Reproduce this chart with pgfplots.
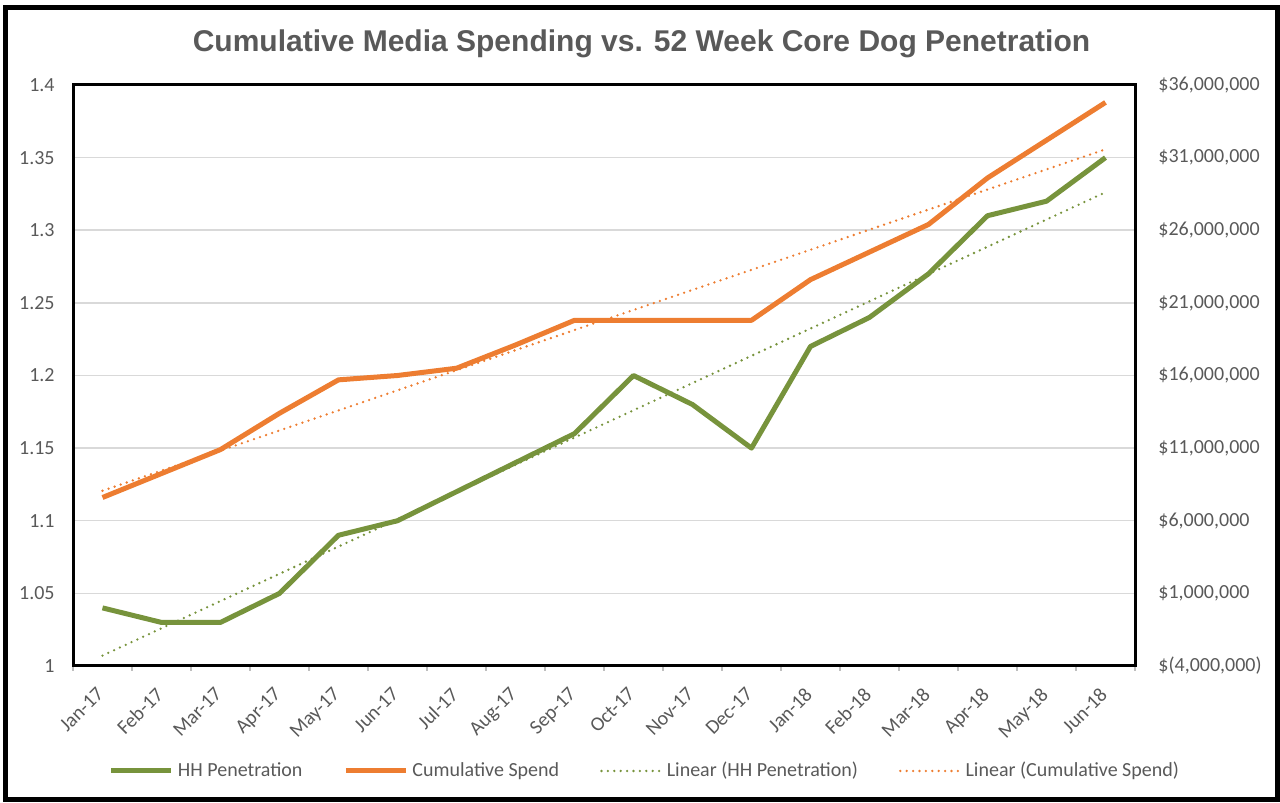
\documentclass[border=0pt]{standalone}
\usepackage{pgfplots}
\usepackage{pgfplotstable}
\pgfplotsset{compat=1.18}
\usepackage{fontspec}
\setmainfont{Carlito}
\newfontfamily\titlefont{Liberation Sans}
\definecolor{hhgreen}{HTML}{77933C}
\definecolor{spendorange}{HTML}{ED7D31}
\definecolor{txtgray}{HTML}{595959}
\definecolor{gridgray}{HTML}{D9D9D9}
\definecolor{tickgray}{HTML}{BFBFBF}

% x = month index (0 = Jan-17), g = HH penetration, o = cumulative spend (millions of $)
\pgfplotstableread{
x g o
0 1.04 7.6
1 1.03 9.25
2 1.03 10.9
3 1.05 13.4
4 1.09 15.7
5 1.10 16.0
6 1.12 16.5
7 1.14 18.1
8 1.16 19.8
9 1.20 19.8
10 1.18 19.8
11 1.15 19.8
12 1.22 22.6
13 1.24 24.5
14 1.27 26.4
15 1.31 29.6
16 1.32 32.2
17 1.35 34.8
}\datatable

\begin{document}
\begin{tikzpicture}
\path[use as bounding box] (0,0) rectangle (640pt,401.5pt);
\draw[line width=2.5pt] (2.75pt,1.5pt) rectangle (638.5pt,397.75pt);
\node[font=\titlefont\bfseries\fontsize{15}{18}\selectfont, text=txtgray, anchor=base] at (320.75pt,375.5pt) {Cumulative Media Spending vs. 52 Week Core Dog Penetration};

\begin{axis}[
  at={(36.5pt,68.5pt)}, anchor=south west,
  scale only axis, width=531pt, height=290.5pt,
  xmin=-0.5, xmax=17.5, ymin=1, ymax=1.4,
  xtick={0,...,17},
  xticklabels={Jan-17,Feb-17,Mar-17,Apr-17,May-17,Jun-17,Jul-17,Aug-17,Sep-17,Oct-17,Nov-17,Dec-17,Jan-18,Feb-18,Mar-18,Apr-18,May-18,Jun-18},
  minor xtick={-0.5,0.5,...,17.5},
  major tick length=0pt,
  minor tick length=2.5pt,
  tick align=outside,
  xtick pos=bottom, ytick pos=left,
  minor x tick style={tickgray, line width=0.75pt},
  ytick={1,1.05,1.1,1.15,1.2,1.25,1.3,1.35,1.4},
  yticklabels={1,1.05,1.1,1.15,1.2,1.25,1.3,1.35,1.4},
  ytick style={draw=none},
  ymajorgrids, grid style={gridgray, line width=0.75pt},
  axis line style={line width=1.5pt, black},
  tick label style={font=\fontsize{10}{12}\selectfont, text=txtgray},
  yticklabel style={anchor=east, inner sep=0pt, xshift=-9pt},
  xticklabel style={rotate=45, anchor=north east, inner sep=0pt, xshift=-9.4pt, yshift=-4.6pt},
]
\addplot[hhgreen, line width=2.5pt, line join=round] table[x=x,y=g]{\datatable};
\addplot[hhgreen, line width=1.3pt, line cap=round, dash pattern=on 0pt off 3.2pt] table[x=x, y={create col/linear regression={y=g}}]{\datatable};
\end{axis}

\begin{axis}[
  at={(36.5pt,68.5pt)}, anchor=south west,
  scale only axis, width=531pt, height=290.5pt,
  xmin=-0.5, xmax=17.5, ymin=-4, ymax=36,
  axis x line=none, axis y line*=right,
  y axis line style={draw=none},
  ytick={-4,1,6,11,16,21,26,31,36},
  yticklabels={\$(4{,}000{,}000),\$1{,}000{,}000,\$6{,}000{,}000,\$11{,}000{,}000,\$16{,}000{,}000,\$21{,}000{,}000,\$26{,}000{,}000,\$31{,}000{,}000,\$36{,}000{,}000},
  ytick style={draw=none}, major tick length=0pt,
  yticklabel style={anchor=west, inner sep=0pt, xshift=11.5pt, font=\fontsize{10}{12}\selectfont, text=txtgray},
  legend style={at={(0.5395,-0.1807)}, anchor=center, draw=none, fill=none, legend columns=4,
    font=\fontsize{10}{12}\selectfont, text=txtgray,
    /tikz/every even column/.append style={column sep=18.5pt}},
  legend image code/.code={\draw[#1] (0pt,0pt) -- (30pt,0pt);},
]
\addlegendimage{hhgreen, line width=2.5pt}
\addlegendentry{HH Penetration}
\addplot[spendorange, line width=2.5pt, line join=round] table[x=x,y=o]{\datatable};
\addlegendentry{Cumulative Spend}
\addlegendimage{hhgreen, line width=1.3pt, line cap=round, dash pattern=on 0pt off 3.2pt}
\addlegendentry{Linear (HH Penetration)}
\addplot[spendorange, line width=1.3pt, line cap=round, dash pattern=on 0pt off 3.2pt] table[x=x, y={create col/linear regression={y=o}}]{\datatable};
\addlegendentry{Linear (Cumulative Spend)}
\end{axis}
\end{tikzpicture}
\end{document}
